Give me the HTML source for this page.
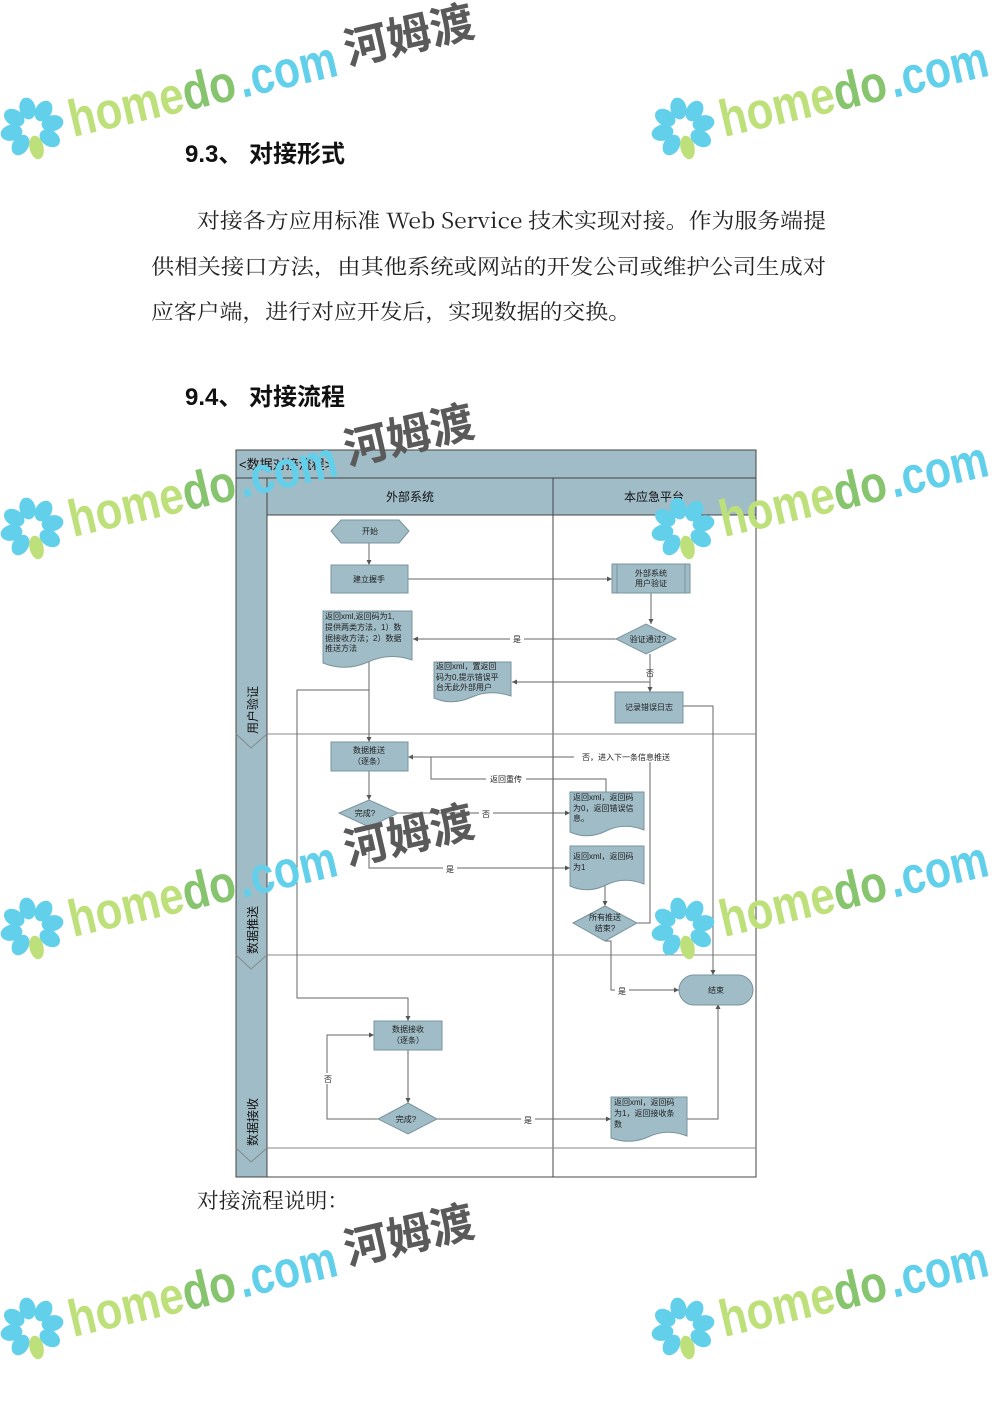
<!DOCTYPE html>
<html><head><meta charset="utf-8"><style>
html,body{margin:0;padding:0;background:#fff;}
svg{display:block;}
.s{font-family:"Liberation Sans","Noto Sans CJK SC",sans-serif;}
.d{font-family:"Liberation Sans","Noto Sans CJK SC",sans-serif;font-size:8px;fill:#222;}
.w1{font-family:"Liberation Sans",sans-serif;font-size:52px;font-weight:bold;fill:#bde07a;}
.w2{fill:#86c46e;}
.w3{font-family:"Liberation Sans",sans-serif;font-size:52px;font-weight:bold;fill:#62d0ea;}
.w4{font-family:"Noto Sans CJK SC",sans-serif;font-size:44px;font-weight:bold;fill:#5a5a5a;}
.pt{fill:#62d0ea;}
</style></head><body>
<svg width="992" height="1403" viewBox="0 0 992 1403" xmlns="http://www.w3.org/2000/svg">
<defs>
<marker id="a" markerWidth="6" markerHeight="6" refX="5" refY="3" orient="auto" markerUnits="userSpaceOnUse"><path d="M0,0.5 L5,3 L0,5.5z" fill="#555"/></marker>
</defs>
<text x="185" y="162" class="s" font-size="24" font-weight="bold" fill="#111">9.3、 对接形式</text>
<g font-family="'Noto Serif CJK SC','Liberation Serif',serif" font-size="21" fill="#222">
<text x="197" y="228" textLength="629" lengthAdjust="spacingAndGlyphs">对接各方应用标准 Web Service 技术实现对接。作为服务端提</text>
<text x="151" y="274" textLength="675" lengthAdjust="spacingAndGlyphs">供相关接口方法，由其他系统或网站的开发公司或维护公司生成对</text>
<text x="151" y="319" textLength="480" lengthAdjust="spacingAndGlyphs">应客户端，进行对应开发后，实现数据的交换。</text>
<text x="197" y="1208" textLength="152" lengthAdjust="spacingAndGlyphs">对接流程说明：</text>
</g>
<text x="185" y="405" class="s" font-size="24" font-weight="bold" fill="#111">9.4、 对接流程</text>

<g stroke="#444" stroke-width="1">
<rect x="236" y="450" width="520" height="727" fill="#fff"/>
<rect x="236" y="450" width="520" height="28" fill="#9fbcc7"/>
<rect x="236" y="478" width="31" height="699" fill="#9fbcc7"/>
<rect x="267" y="478" width="489" height="37" fill="#9fbcc7"/>
<line x1="553" y1="478" x2="553" y2="1177"/>
</g>
<g stroke="#888" stroke-width="1" fill="none">
<line x1="267" y1="734" x2="756" y2="734"/>
<line x1="267" y1="955" x2="756" y2="955"/>
<line x1="267" y1="1148" x2="756" y2="1148"/>
</g>
<g fill="#9fbcc7" stroke="#888">
<path d="M236,734 L251,748 L267,734"/>
<path d="M236,955 L251,969 L267,955"/>
<path d="M236,1148 L251,1162 L267,1148"/>
</g>
<text x="239" y="469" class="s" font-size="13" fill="#111">&lt;数据对接流程&gt;</text>
<text x="410" y="501" class="s" font-size="12" text-anchor="middle" fill="#111">外部系统</text>
<text x="654" y="501" class="s" font-size="12" text-anchor="middle" fill="#111">本应急平台</text>
<g class="s" font-size="12" fill="#111">
<text transform="translate(257,710) rotate(-90)" text-anchor="middle">用户验证</text>
<text transform="translate(257,930) rotate(-90)" text-anchor="middle">数据推送</text>
<text transform="translate(257,1122) rotate(-90)" text-anchor="middle">数据接收</text>
</g>

<g stroke="#666" stroke-width="1" fill="none">
<line x1="369" y1="543" x2="369" y2="565" marker-end="url(#a)"/>
<line x1="407" y1="579" x2="612" y2="579" marker-end="url(#a)"/>
<line x1="651" y1="593" x2="651" y2="624" marker-end="url(#a)"/>
<line x1="616" y1="639" x2="413" y2="639" marker-end="url(#a)"/>
<line x1="650" y1="654" x2="650" y2="692" marker-end="url(#a)"/>
<line x1="650" y1="682" x2="512" y2="682" marker-end="url(#a)"/>
<polyline points="683,706 713,706 713,975" marker-end="url(#a)"/>
<line x1="369" y1="662" x2="369" y2="742" marker-end="url(#a)"/>
<polyline points="369,690 297,690 297,998 408,998 408,1021" marker-end="url(#a)"/>
<line x1="369" y1="771" x2="369" y2="800" marker-end="url(#a)"/>
<line x1="398" y1="813" x2="570" y2="813" marker-end="url(#a)"/>
<polyline points="369,827 369,868 570,868" marker-end="url(#a)"/>
<polyline points="606,793 606,779 431,779 431,757 408,757" marker-end="url(#a)"/>
<polyline points="637,923 650,923 650,757 408,757"/>
<line x1="605" y1="885" x2="605" y2="906" marker-end="url(#a)"/>
<polyline points="605,941 611,941 611,990 679,990" marker-end="url(#a)"/>
<line x1="408" y1="1050" x2="408" y2="1103" marker-end="url(#a)"/>
<polyline points="378,1119 327,1119 327,1035 374,1035" marker-end="url(#a)"/>
<line x1="436" y1="1119" x2="611" y2="1119" marker-end="url(#a)"/>
<polyline points="687,1119 718,1119 718,1004" marker-end="url(#a)"/>
</g>
<g class="d" text-anchor="middle">
<rect x="510" y="633" width="14" height="11" fill="#fff"/><text x="517" y="642">是</text>
<text x="650" y="676">否</text>
<rect x="574" y="751" width="104" height="11" fill="#fff"/><text x="626" y="760">否，进入下一条信息推送</text>
<rect x="486" y="773" width="40" height="11" fill="#fff"/><text x="506" y="782">返回重传</text>
<rect x="479" y="808" width="14" height="11" fill="#fff"/><text x="486" y="817">否</text>
<rect x="443" y="863" width="14" height="11" fill="#fff"/><text x="450" y="872">是</text>
<rect x="615" y="985" width="14" height="11" fill="#fff"/><text x="622" y="994">是</text>
<rect x="322" y="1073" width="12" height="11" fill="#fff"/><text x="328" y="1082">否</text>
<rect x="521" y="1114" width="14" height="11" fill="#fff"/><text x="528" y="1123">是</text>
</g>

<g fill="#9fbcc7" stroke="#7a939c" stroke-width="1">
<polygon points="331,531 341,520 399,520 409,531 399,543 341,543"/>
<rect x="331" y="565" width="77" height="28"/>
<rect x="612" y="564" width="78" height="29"/>
<polygon points="616,639 646,624 676,639 646,654"/>
<path d="M323,611 H412 V660 Q390,652 368,662 Q345,672 323,663 Z"/>
<path d="M434,662 H511 V696 Q490,689 472,697 Q452,706 434,698 Z"/>
<rect x="615" y="692" width="68" height="31"/>
<rect x="331" y="742" width="77" height="29"/>
<polygon points="339,813 369,800 398,813 369,827"/>
<path d="M570,792 H644 V830 Q624,822 606,831 Q588,840 570,832 Z"/>
<path d="M570,846 H644 V884 Q624,876 606,885 Q588,894 570,886 Z"/>
<polygon points="573,923 605,906 637,923 605,941"/>
<rect x="679" y="975" width="74" height="30" rx="15"/>
<rect x="374" y="1021" width="68" height="29"/>
<polygon points="378,1119 408,1103 437,1119 408,1134"/>
<path d="M611,1097 H687 V1136 Q667,1128 648,1137 Q630,1145 611,1138 Z"/>
</g>
<g stroke="#7a939c"><line x1="617" y1="564" x2="617" y2="593"/><line x1="685" y1="564" x2="685" y2="593"/></g>
<g class="d">
<text x="370" y="534" text-anchor="middle">开始</text>
<text x="369" y="582" text-anchor="middle">建立握手</text>
<text x="651" y="576" text-anchor="middle">外部系统</text>
<text x="651" y="586" text-anchor="middle">用户验证</text>
<text x="648" y="642" text-anchor="middle">验证通过?</text>
<text x="325" y="619">返回xml,返回码为1,</text>
<text x="325" y="630">提供两类方法，1）数</text>
<text x="325" y="641">据接收方法；2）数据</text>
<text x="325" y="651">推送方法</text>
<text x="436" y="669">返回xml，置返回</text>
<text x="436" y="680">码为0,提示错误平</text>
<text x="436" y="690">台无此外部用户</text>
<text x="649" y="710" text-anchor="middle">记录错误日志</text>
<text x="369" y="753" text-anchor="middle">数据推送</text>
<text x="369" y="764" text-anchor="middle">（逐条）</text>
<text x="365" y="816" text-anchor="middle">完成?</text>
<text x="573" y="800">返回xml，返回码</text>
<text x="573" y="811">为0，返回错误信</text>
<text x="573" y="821">息。</text>
<text x="573" y="859">返回xml，返回码</text>
<text x="573" y="870">为1</text>
<text x="605" y="920" text-anchor="middle">所有推送</text>
<text x="605" y="931" text-anchor="middle">结束?</text>
<text x="716" y="993" text-anchor="middle">结束</text>
<text x="408" y="1032" text-anchor="middle">数据接收</text>
<text x="408" y="1043" text-anchor="middle">（逐条）</text>
<text x="406" y="1122" text-anchor="middle">完成?</text>
<text x="614" y="1105">返回xml，返回码</text>
<text x="614" y="1116">为1，返回接收条</text>
<text x="614" y="1127">数</text>
</g>

<!-- watermarks -->
<g transform="translate(32,128) rotate(-13)">
<g class="pt"><ellipse cx="0" cy="-20" rx="8" ry="11"/><ellipse cx="15" cy="-14" rx="8" ry="11" transform="rotate(45 15 -14)"/><ellipse cx="21" cy="0" rx="11" ry="8"/><ellipse cx="15" cy="14" rx="8" ry="11" transform="rotate(-45 15 14)"/><ellipse cx="-15" cy="14" rx="8" ry="11" transform="rotate(45 -15 14)"/><ellipse cx="-21" cy="0" rx="11" ry="8"/><ellipse cx="-15" cy="-14" rx="8" ry="11" transform="rotate(-45 -15 -14)"/></g>
<ellipse cx="0" cy="20" rx="7" ry="12" fill="#bde07a"/>
<text x="38" y="18" class="w1" textLength="170" lengthAdjust="spacingAndGlyphs">home<tspan class="w2">do</tspan></text>
<text x="212" y="18" class="w3" textLength="100" lengthAdjust="spacingAndGlyphs">.com</text>
<text x="322" y="10" class="w4">河姆渡</text>
</g>
<g transform="translate(683,128) rotate(-13)">
<g class="pt"><ellipse cx="0" cy="-20" rx="8" ry="11"/><ellipse cx="15" cy="-14" rx="8" ry="11" transform="rotate(45 15 -14)"/><ellipse cx="21" cy="0" rx="11" ry="8"/><ellipse cx="15" cy="14" rx="8" ry="11" transform="rotate(-45 15 14)"/><ellipse cx="-15" cy="14" rx="8" ry="11" transform="rotate(45 -15 14)"/><ellipse cx="-21" cy="0" rx="11" ry="8"/><ellipse cx="-15" cy="-14" rx="8" ry="11" transform="rotate(-45 -15 -14)"/></g>
<ellipse cx="0" cy="20" rx="7" ry="12" fill="#bde07a"/>
<text x="38" y="18" class="w1" textLength="170" lengthAdjust="spacingAndGlyphs">home<tspan class="w2">do</tspan></text>
<text x="212" y="18" class="w3" textLength="100" lengthAdjust="spacingAndGlyphs">.com</text>
</g>
<g transform="translate(32,528) rotate(-13)">
<g class="pt"><ellipse cx="0" cy="-20" rx="8" ry="11"/><ellipse cx="15" cy="-14" rx="8" ry="11" transform="rotate(45 15 -14)"/><ellipse cx="21" cy="0" rx="11" ry="8"/><ellipse cx="15" cy="14" rx="8" ry="11" transform="rotate(-45 15 14)"/><ellipse cx="-15" cy="14" rx="8" ry="11" transform="rotate(45 -15 14)"/><ellipse cx="-21" cy="0" rx="11" ry="8"/><ellipse cx="-15" cy="-14" rx="8" ry="11" transform="rotate(-45 -15 -14)"/></g>
<ellipse cx="0" cy="20" rx="7" ry="12" fill="#bde07a"/>
<text x="38" y="18" class="w1" textLength="170" lengthAdjust="spacingAndGlyphs">home<tspan class="w2">do</tspan></text>
<text x="212" y="18" class="w3" textLength="100" lengthAdjust="spacingAndGlyphs">.com</text>
<text x="322" y="10" class="w4">河姆渡</text>
</g>
<g transform="translate(683,528) rotate(-13)">
<g class="pt"><ellipse cx="0" cy="-20" rx="8" ry="11"/><ellipse cx="15" cy="-14" rx="8" ry="11" transform="rotate(45 15 -14)"/><ellipse cx="21" cy="0" rx="11" ry="8"/><ellipse cx="15" cy="14" rx="8" ry="11" transform="rotate(-45 15 14)"/><ellipse cx="-15" cy="14" rx="8" ry="11" transform="rotate(45 -15 14)"/><ellipse cx="-21" cy="0" rx="11" ry="8"/><ellipse cx="-15" cy="-14" rx="8" ry="11" transform="rotate(-45 -15 -14)"/></g>
<ellipse cx="0" cy="20" rx="7" ry="12" fill="#bde07a"/>
<text x="38" y="18" class="w1" textLength="170" lengthAdjust="spacingAndGlyphs">home<tspan class="w2">do</tspan></text>
<text x="212" y="18" class="w3" textLength="100" lengthAdjust="spacingAndGlyphs">.com</text>
</g>
<g transform="translate(32,928) rotate(-13)">
<g class="pt"><ellipse cx="0" cy="-20" rx="8" ry="11"/><ellipse cx="15" cy="-14" rx="8" ry="11" transform="rotate(45 15 -14)"/><ellipse cx="21" cy="0" rx="11" ry="8"/><ellipse cx="15" cy="14" rx="8" ry="11" transform="rotate(-45 15 14)"/><ellipse cx="-15" cy="14" rx="8" ry="11" transform="rotate(45 -15 14)"/><ellipse cx="-21" cy="0" rx="11" ry="8"/><ellipse cx="-15" cy="-14" rx="8" ry="11" transform="rotate(-45 -15 -14)"/></g>
<ellipse cx="0" cy="20" rx="7" ry="12" fill="#bde07a"/>
<text x="38" y="18" class="w1" textLength="170" lengthAdjust="spacingAndGlyphs">home<tspan class="w2">do</tspan></text>
<text x="212" y="18" class="w3" textLength="100" lengthAdjust="spacingAndGlyphs">.com</text>
<text x="322" y="10" class="w4">河姆渡</text>
</g>
<g transform="translate(683,928) rotate(-13)">
<g class="pt"><ellipse cx="0" cy="-20" rx="8" ry="11"/><ellipse cx="15" cy="-14" rx="8" ry="11" transform="rotate(45 15 -14)"/><ellipse cx="21" cy="0" rx="11" ry="8"/><ellipse cx="15" cy="14" rx="8" ry="11" transform="rotate(-45 15 14)"/><ellipse cx="-15" cy="14" rx="8" ry="11" transform="rotate(45 -15 14)"/><ellipse cx="-21" cy="0" rx="11" ry="8"/><ellipse cx="-15" cy="-14" rx="8" ry="11" transform="rotate(-45 -15 -14)"/></g>
<ellipse cx="0" cy="20" rx="7" ry="12" fill="#bde07a"/>
<text x="38" y="18" class="w1" textLength="170" lengthAdjust="spacingAndGlyphs">home<tspan class="w2">do</tspan></text>
<text x="212" y="18" class="w3" textLength="100" lengthAdjust="spacingAndGlyphs">.com</text>
</g>
<g transform="translate(32,1328) rotate(-13)">
<g class="pt"><ellipse cx="0" cy="-20" rx="8" ry="11"/><ellipse cx="15" cy="-14" rx="8" ry="11" transform="rotate(45 15 -14)"/><ellipse cx="21" cy="0" rx="11" ry="8"/><ellipse cx="15" cy="14" rx="8" ry="11" transform="rotate(-45 15 14)"/><ellipse cx="-15" cy="14" rx="8" ry="11" transform="rotate(45 -15 14)"/><ellipse cx="-21" cy="0" rx="11" ry="8"/><ellipse cx="-15" cy="-14" rx="8" ry="11" transform="rotate(-45 -15 -14)"/></g>
<ellipse cx="0" cy="20" rx="7" ry="12" fill="#bde07a"/>
<text x="38" y="18" class="w1" textLength="170" lengthAdjust="spacingAndGlyphs">home<tspan class="w2">do</tspan></text>
<text x="212" y="18" class="w3" textLength="100" lengthAdjust="spacingAndGlyphs">.com</text>
<text x="322" y="10" class="w4">河姆渡</text>
</g>
<g transform="translate(683,1328) rotate(-13)">
<g class="pt"><ellipse cx="0" cy="-20" rx="8" ry="11"/><ellipse cx="15" cy="-14" rx="8" ry="11" transform="rotate(45 15 -14)"/><ellipse cx="21" cy="0" rx="11" ry="8"/><ellipse cx="15" cy="14" rx="8" ry="11" transform="rotate(-45 15 14)"/><ellipse cx="-15" cy="14" rx="8" ry="11" transform="rotate(45 -15 14)"/><ellipse cx="-21" cy="0" rx="11" ry="8"/><ellipse cx="-15" cy="-14" rx="8" ry="11" transform="rotate(-45 -15 -14)"/></g>
<ellipse cx="0" cy="20" rx="7" ry="12" fill="#bde07a"/>
<text x="38" y="18" class="w1" textLength="170" lengthAdjust="spacingAndGlyphs">home<tspan class="w2">do</tspan></text>
<text x="212" y="18" class="w3" textLength="100" lengthAdjust="spacingAndGlyphs">.com</text>
</g>
</svg>
</body></html>
